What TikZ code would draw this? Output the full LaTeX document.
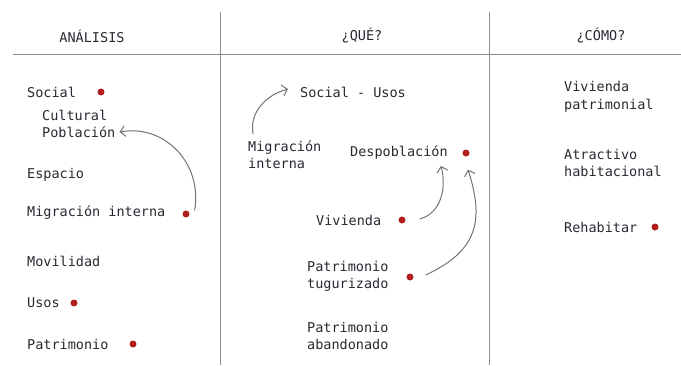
\documentclass[tikz,border=0pt]{standalone}
\usepackage{fontspec}
\setmonofont{DejaVu Sans Mono}
\usetikzlibrary{arrows.meta}
\definecolor{txtgray}{RGB}{40,40,50}
\definecolor{dotred}{RGB}{178,30,30}
\definecolor{rulegray}{RGB}{140,140,140}
\definecolor{arrgray}{RGB}{115,115,115}
\tikzset{
	item/.style={anchor=west, inner sep=0pt, text=txtgray, align=left,
		font=\ttfamily\fontsize{13.5}{17.5}\selectfont},
	head/.style={inner sep=0pt, text=txtgray, font=\ttfamily\fontsize{13.5}{16}\selectfont},
	rdot/.style={circle, fill=dotred, inner sep=0pt, minimum size=7pt},
	link/.style={draw=arrgray, line width=1pt, -{Straight Barb[length=5pt,width=11pt]}},
}

\begin{document}
\begin{tikzpicture}[x=1pt,y=-1pt]
	\useasboundingbox (0,0) rectangle (681,365);
	% grid
	\draw[rulegray, line width=1pt] (13,54) -- (681,54);
	\draw[rulegray, line width=1pt] (220,12) -- (220,365);
	\draw[rulegray, line width=1pt] (489,12) -- (489,365);
	% headers
	\node[head] (hanalisis) at (92,36) {ANÁLISIS};
	\node[head] (hque) at (362,36) {¿QUÉ?};
	\node[head] (hcomo) at (601,36) {¿CÓMO?};
	% analisis
	\node[item] (social) at (27,92) {Social};
	\node[rdot] (socialdot) at (101,92) {};
	\node[item] (cultural) at (42,115) {Cultural};
	\node[item] (poblacion) at (42,132) {Población};
	\node[item] (espacio) at (27,175) {Espacio};
	\node[item] (migracion) at (27,213) {Migración interna};
	\node[rdot] (migdot) at (186,214) {};
	\node[item] (movilidad) at (27,261) {Movilidad};
	\node[item] (usos) at (27,303) {Usos};
	\node[rdot] (usosdot) at (74,303) {};
	\node[item] (patrimonio) at (27,344) {Patrimonio};
	\node[rdot] (patdot) at (133,344) {};
	\draw[link] ([xshift=6pt,yshift=1pt]migdot.north east) to[out=80,in=10,looseness=1.1] ([xshift=4pt]poblacion.east);
	% que
	\node[item] (socusos) at (300,92) {Social - Usos};
	\node[item] (migint) at (248,154.5) {Migración\\interna};
	\node[item] (despob) at (350,153) {Despoblación};
	\node[rdot] (despdot) at (466,153) {};
	\node[item] (vivienda) at (316,220) {Vivienda};
	\node[rdot] (vivdot) at (402,220) {};
	\node[item] (pattug) at (307,276.5) {Patrimonio\\tugurizado};
	\node[rdot] (tugdot) at (410,277) {};
	\node[item] (patab) at (307,336) {Patrimonio\\abandonado};
	\draw[link] ([xshift=5pt,yshift=6pt]migint.north west) to[out=100,in=195] ([xshift=-12pt,yshift=3pt]socusos.west);
	\draw[link] ([xshift=14pt,yshift=1pt]vivdot.east) to[out=15,in=-75] ([xshift=-7pt,yshift=-6pt]despob.south east);
	\draw[link] ([xshift=12pt,yshift=2pt]tugdot.east) to[out=25,in=-72,looseness=1.25] ([xshift=2pt,yshift=-13pt]despdot.south);
	% como
	\node[item] (vivpat) at (564,97) {Vivienda\\patrimonial};
	\node[item] (atract) at (564,163) {Atractivo\\habitacional};
	\node[item] (rehab) at (564,227) {Rehabitar};
	\node[rdot] (rehabdot) at (655,227) {};
\end{tikzpicture}
\end{document}
